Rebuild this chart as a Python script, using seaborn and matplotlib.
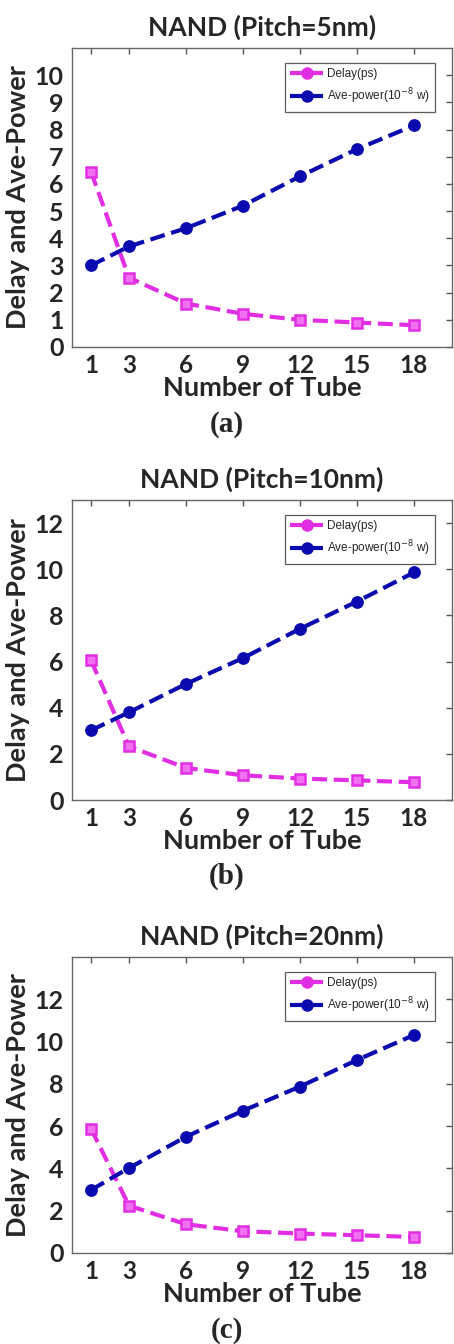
import matplotlib
matplotlib.use("Agg")
import matplotlib.pyplot as plt
from matplotlib.lines import Line2D
import seaborn as sns
import pandas as pd

# ---------------- data ----------------
tubes = [1, 3, 6, 9, 12, 15, 18]
x_ticks = [1, 3, 6, 9, 12, 15, 18]

delay_5nm = [6.45, 2.55, 1.6, 1.22, 1.0, 0.9, 0.8]
power_5nm = [3.0, 3.7, 4.37, 5.2, 6.28, 7.28, 8.15]

delay_10nm = [6.05, 2.32, 1.39, 1.07, 0.93, 0.85, 0.77]
power_10nm = [3.02, 3.8, 5.03, 6.15, 7.42, 8.6, 9.86]

delay_20nm = [5.88, 2.24, 1.36, 1.03, 0.92, 0.84, 0.76]
power_20nm = [2.98, 4.02, 5.5, 6.73, 7.87, 9.13, 10.31]

titles = ["NAND (Pitch=5nm)", "NAND (Pitch=10nm)", "NAND (Pitch=20nm)"]
captions = ["(a)", "(b)", "(c)"]
y_limits = [11, 13, 14]
y_steps = [1, 2, 2]
y_tick_max = [10, 12, 12]
legend_labels = ["Delay(ps)", "Ave-power(10$^{-8}$ w)"]
x_label = "Number of Tube"
y_label = "Delay and Ave-Power"

delays = [delay_5nm, delay_10nm, delay_20nm]
powers = [power_5nm, power_10nm, power_20nm]

# ---------------- style ----------------
sns.set_theme(style="white")
plt.rcParams["font.family"] = ["Lato", "DejaVu Sans"]
plt.rcParams["mathtext.fontset"] = "dejavusans"

W, H = 454, 1344
fig = plt.figure(figsize=(W / 100, H / 100), dpi=100)
fig.patch.set_facecolor("white")

# axes boxes in pixels: left, top, right, bottom
boxes = [(72, 48, 452, 347), (72, 500, 452, 800), (72, 957, 452, 1253)]
caption_y = [424, 876, 1330]

MAGENTA = "#e22ee2"
BLUE = "#0a0aae"
DASH = (0, (3.6, 1.6))

for i in range(3):
    l, t, r, b = boxes[i]
    ax = fig.add_axes([l / W, 1 - b / H, (r - l) / W, (b - t) / H])
    df = pd.DataFrame({"tubes": tubes, "delay": delays[i], "power": powers[i]})
    sns.lineplot(data=df, x="tubes", y="delay", ax=ax, color=MAGENTA,
                 linestyle=DASH, linewidth=3.0, marker="s",
                 markersize=7, markerfacecolor="#f070f0",
                 markeredgecolor=MAGENTA, markeredgewidth=1.8)
    sns.lineplot(data=df, x="tubes", y="power", ax=ax, color=BLUE,
                 linestyle=DASH, linewidth=3.0, marker="o",
                 markersize=8, markerfacecolor=BLUE,
                 markeredgecolor=BLUE, markeredgewidth=1.2)
    ax.set_xlim(0, 20)
    ax.set_ylim(0, y_limits[i])
    ax.set_xticks(x_ticks)
    ax.set_xticklabels([str(v) for v in x_ticks], fontsize=17.5, fontweight="bold")
    yt = list(range(0, y_tick_max[i] + 1, y_steps[i]))
    ax.set_yticks(yt)
    ax.set_yticklabels([str(v) for v in yt], fontsize=18, fontweight="bold")
    ax.tick_params(axis="x", direction="in", top=True, length=4, width=1,
                   color="#555555", pad=5)
    ax.tick_params(axis="y", direction="in", right=True, length=4, width=1,
                   color="#555555", pad=6)
    for s in ax.spines.values():
        s.set_color("#666666")
        s.set_linewidth(1.0)
    ax.set_xlabel(x_label, fontsize=19.5, fontweight="bold", labelpad=-1)
    ax.set_ylabel(y_label, fontsize=19.5, fontweight="bold", labelpad=3)
    ax.set_title(titles[i], fontsize=19, fontweight="bold", pad=9)
    handles = [
        Line2D([], [], color=MAGENTA, linestyle=DASH, linewidth=3.0,
               marker="o", markersize=8, markerfacecolor=MAGENTA),
        Line2D([], [], color=BLUE, linestyle=DASH, linewidth=3.0,
               marker="o", markersize=8, markerfacecolor=BLUE),
    ]
    leg = ax.legend(handles, legend_labels, loc="upper right", frameon=True,
                    fancybox=False, edgecolor="#333333", handlelength=2.8,
                    borderpad=0.45, labelspacing=0.55, handletextpad=0.3,
                    bbox_to_anchor=(0.97, 0.97),
                    prop={"family": "Liberation Sans", "size": 8.5})
    leg.get_frame().set_linewidth(0.9)
    fig.text(0.5, 1 - caption_y[i] / H, captions[i], ha="center", va="center",
             fontsize=21, fontweight="bold", family="Liberation Serif")

fig.savefig("out.png", dpi=100, facecolor="white")
